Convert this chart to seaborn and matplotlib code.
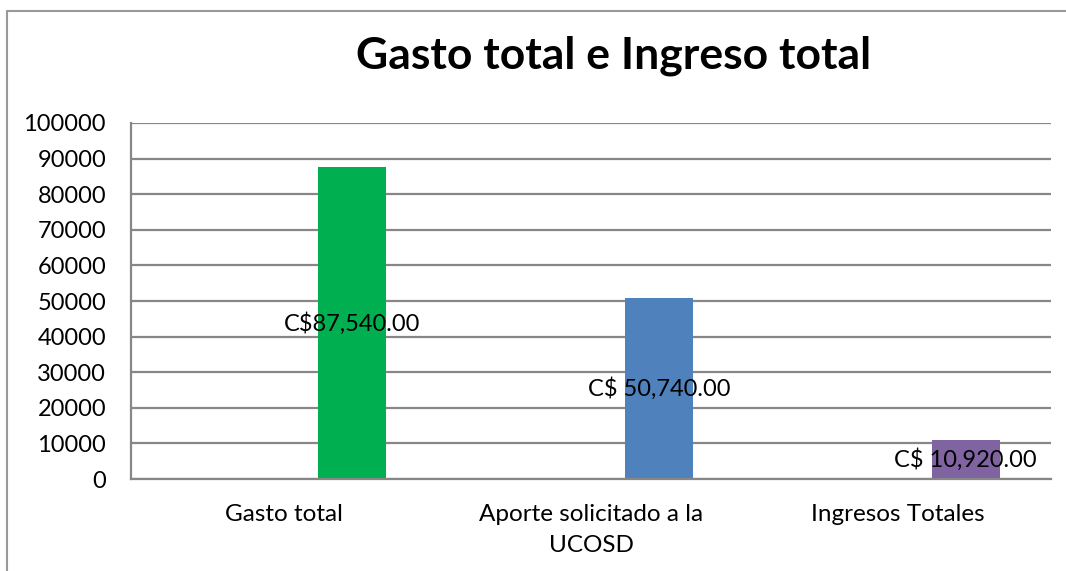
import pandas as pd
import matplotlib.pyplot as plt
import seaborn as sns
from matplotlib.lines import Line2D

# datos del grafico
categorias = ["Gasto total", "Aporte solicitado a la\nUCOSD", "Ingresos Totales"]
valores = [87540, 50740, 10920]
etiquetas = ["C$87,540.00", "C$ 50,740.00", "C$ 10,920.00"]
colores = ["#00B050", "#4F81BD", "#8064A2"]
ticks_y = [0, 10000, 20000, 30000, 40000, 50000, 60000, 70000, 80000, 90000, 100000]

sns.set_theme(style="white")
plt.rcParams['font.family'] = ['Lato', 'DejaVu Sans']

fig = plt.figure(figsize=(10.66, 5.71), dpi=100)
ax = fig.add_axes([0.1229, 0.1611, 0.8630, 0.6235])

df = pd.DataFrame({"categoria": categorias, "valor": valores})
ancho = 0.222
sns.barplot(data=df, x="categoria", y="valor", hue="categoria", palette=colores,
            width=ancho, saturation=1, legend=False, linewidth=0, ax=ax)

# las barras van corridas a la derecha como en Excel (serie en grupo)
for p in ax.patches:
    p.set_x(p.get_x() + ancho)

for cont, txt in zip(ax.containers, etiquetas):
    ax.bar_label(cont, labels=[txt], label_type="center", fontsize=17, color="black")

ax.set_xlim(-0.5, 2.5)
ax.set_ylim(0, 100000)
ax.set_yticks(ticks_y)
ax.set_yticklabels([str(t) for t in ticks_y])
ax.set_xlabel("")
ax.set_ylabel("")
ax.yaxis.grid(True, color="#878787", linewidth=1.6)
ax.set_axisbelow(True)
for lado in ["top", "right"]:
    ax.spines[lado].set_visible(False)
for lado in ["left", "bottom"]:
    ax.spines[lado].set_color("#878787")
    ax.spines[lado].set_linewidth(1.6)
ax.tick_params(axis="y", length=0, pad=18, labelsize=17, labelcolor="black")
ax.tick_params(axis="x", length=0, pad=18, labelsize=17.5, labelcolor="black")
for lbl in ax.get_xticklabels():
    lbl.set_linespacing(1.6)

fig.text(0.5755, 0.902, "Gasto total e Ingreso total", ha="center", va="center",
         fontsize=32, fontweight="bold", color="black")

# marco del area del grafico
fig.add_artist(Line2D([7 / 1066, 1], [1 - 11 / 571, 1 - 11 / 571], color="#999999", lw=1.5))
fig.add_artist(Line2D([7 / 1066, 7 / 1066], [0, 1 - 11 / 571], color="#999999", lw=1.5))

fig.savefig("out.png", dpi=100, facecolor="white")
